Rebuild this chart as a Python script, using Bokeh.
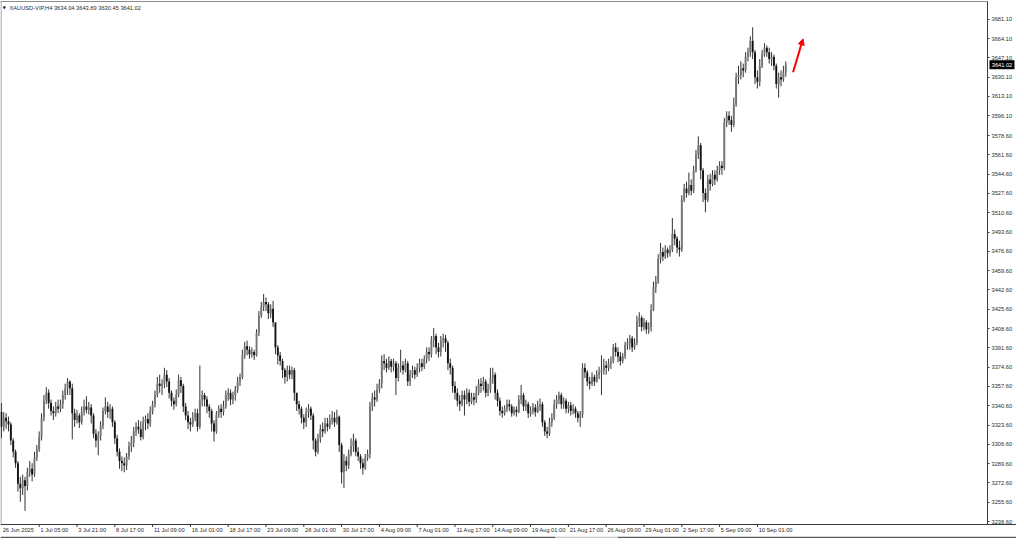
import numpy as np
from bokeh.plotting import figure
from bokeh.models import (Range1d, FixedTicker, Label, Arrow, NormalHead, ColumnDataSource,
                          PrintfTickFormatter, CustomJSTickFormatter)
from bokeh.core.properties import value
from bokeh.embed import file_html
from bokeh.resources import INLINE

# ---------------- data (XAUUSD H4 candles) ----------------
first_open = 3335.0
close = [
    3322, 3330, 3327, 3324, 3310, 3300, 3290, 3272, 3268, 3275,   # 0
    3270, 3282, 3285, 3280, 3295, 3302, 3313, 3330, 3345, 3352,   # 10
    3343, 3336, 3334, 3340, 3338, 3342, 3350, 3356, 3362, 3356,   # 20
    3334, 3328, 3332, 3326, 3335, 3340, 3337, 3339, 3332, 3316,   # 30
    3310, 3314, 3323, 3336, 3340, 3335, 3338, 3326, 3312, 3300,   # 40
    3292, 3290, 3288, 3296, 3305, 3308, 3318, 3322, 3320, 3313,   # 50
    3326, 3329, 3325, 3336, 3342, 3350, 3360, 3358, 3360, 3368,   # 60
    3362, 3352, 3345, 3342, 3350, 3363, 3358, 3340, 3332, 3326,   # 70
    3324, 3330, 3334, 3322, 3345, 3350, 3346, 3340, 3336, 3325,   # 80
    3318, 3333, 3338, 3335, 3340, 3350, 3352, 3346, 3350, 3355,   # 90
    3362, 3366, 3385, 3393, 3390, 3386, 3388, 3385, 3405, 3420,   # 100
    3428, 3432, 3430, 3422, 3426, 3414, 3392, 3385, 3380, 3372,   # 110
    3366, 3372, 3368, 3372, 3352, 3342, 3338, 3330, 3326, 3335,   # 120
    3338, 3332, 3310, 3300, 3312, 3320, 3318, 3325, 3322, 3328,   # 130
    3330, 3326, 3331, 3306, 3282, 3292, 3288, 3298, 3305, 3310,   # 140
    3300, 3296, 3290, 3286, 3295, 3298, 3340, 3348, 3346, 3355,   # 150
    3360, 3380, 3378, 3374, 3380, 3375, 3378, 3365, 3374, 3376,   # 160
    3372, 3378, 3362, 3368, 3372, 3368, 3374, 3378, 3375, 3382,   # 170
    3388, 3386, 3398, 3402, 3392, 3388, 3398, 3400, 3396, 3378,   # 180
    3374, 3358, 3352, 3345, 3342, 3350, 3346, 3352, 3344, 3348,   # 190
    3346, 3352, 3360, 3358, 3362, 3352, 3355, 3365, 3368, 3352,   # 200
    3345, 3336, 3334, 3338, 3342, 3340, 3334, 3337, 3335, 3346,   # 210
    3350, 3340, 3342, 3334, 3336, 3339, 3335, 3340, 3342, 3326,   # 220
    3318, 3316, 3326, 3330, 3342, 3346, 3350, 3342, 3345, 3338,   # 230
    3341, 3336, 3338, 3334, 3330, 3333, 3374, 3370, 3362, 3360,   # 240
    3366, 3362, 3368, 3370, 3372, 3376, 3374, 3378, 3380, 3392,   # 250
    3388, 3384, 3380, 3384, 3394, 3396, 3400, 3392, 3396, 3415,   # 260
    3418, 3410, 3414, 3408, 3410, 3425, 3445, 3450, 3470, 3476,   # 270
    3472, 3478, 3475, 3478, 3492, 3488, 3480, 3478, 3522, 3532,   # 280
    3528, 3535, 3530, 3548, 3562, 3570, 3548, 3528, 3522, 3540,   # 290
    3536, 3544, 3540, 3548, 3552, 3550, 3590, 3596, 3592, 3588,   # 300
    3606, 3630, 3632, 3638, 3636, 3648, 3652, 3662, 3652, 3630,   # 310
    3626, 3640, 3650, 3656, 3652, 3646, 3648, 3640, 3624, 3630,   # 320
    3628, 3634.04, 3641.02,                                       # 330
]
high = [
    3343, 3335, 3334, 3331, 3326, 3312, 3302, 3292, 3278, 3280,
    3278, 3286, 3292, 3290, 3300, 3306, 3318, 3334, 3350, 3357,
    3355, 3346, 3340, 3344, 3346, 3346, 3354, 3360, 3365, 3363,
    3360, 3338, 3337, 3334, 3340, 3346, 3349, 3344, 3342, 3334,
    3320, 3318, 3327, 3339, 3348, 3344, 3342, 3340, 3328, 3315,
    3303, 3296, 3295, 3299, 3309, 3314, 3322, 3326, 3328, 3327,
    3331, 3332, 3334, 3340, 3345, 3354, 3366, 3368, 3364, 3374,
    3372, 3365, 3354, 3348, 3355, 3368, 3366, 3360, 3343, 3336,
    3330, 3335, 3338, 3338, 3376, 3354, 3352, 3349, 3342, 3338,
    3328, 3336, 3341, 3342, 3345, 3354, 3356, 3355, 3353, 3358,
    3366, 3369, 3390, 3397, 3398, 3393, 3392, 3390, 3408, 3424,
    3432, 3439, 3436, 3432, 3430, 3433, 3414, 3394, 3388, 3382,
    3374, 3376, 3376, 3375, 3374, 3352, 3345, 3340, 3333, 3339,
    3342, 3340, 3334, 3312, 3316, 3324, 3326, 3330, 3330, 3333,
    3336, 3335, 3337, 3332, 3308, 3298, 3296, 3302, 3312, 3316,
    3312, 3304, 3298, 3294, 3298, 3302, 3344, 3352, 3354, 3360,
    3364, 3385, 3386, 3382, 3384, 3382, 3382, 3380, 3378, 3390,
    3380, 3382, 3380, 3372, 3376, 3375, 3378, 3382, 3382, 3385,
    3392, 3392, 3402, 3409, 3404, 3396, 3402, 3404, 3403, 3398,
    3382, 3376, 3362, 3356, 3350, 3354, 3354, 3356, 3355, 3352,
    3352, 3358, 3364, 3365, 3366, 3364, 3360, 3374, 3374, 3370,
    3355, 3348, 3340, 3341, 3346, 3346, 3342, 3340, 3340, 3350,
    3359, 3352, 3346, 3344, 3340, 3343, 3342, 3345, 3347, 3344,
    3328, 3322, 3330, 3334, 3346, 3350, 3353, 3352, 3348, 3347,
    3344, 3344, 3342, 3340, 3336, 3336, 3378, 3378, 3372, 3366,
    3370, 3368, 3372, 3375, 3385, 3382, 3380, 3382, 3384, 3395,
    3396, 3392, 3388, 3387, 3397, 3400, 3403, 3402, 3400, 3420,
    3423, 3420, 3418, 3416, 3414, 3430, 3450, 3455, 3474, 3484,
    3480, 3482, 3480, 3482, 3506, 3496, 3490, 3486, 3526, 3536,
    3538, 3546, 3540, 3552, 3566, 3578, 3572, 3550, 3532, 3544,
    3545, 3548, 3548, 3552, 3556, 3556, 3594, 3600, 3600, 3596,
    3612, 3634, 3640, 3644, 3642, 3652, 3656, 3666, 3674, 3654,
    3636, 3646, 3654, 3660, 3658, 3656, 3652, 3650, 3642, 3634,
    3636, 3640, 3643.89,
]
low = [
    3312, 3318, 3320, 3318, 3306, 3295, 3286, 3265, 3256, 3262,
    3248, 3266, 3278, 3274, 3278, 3292, 3300, 3310, 3327, 3342,
    3338, 3332, 3328, 3331, 3334, 3335, 3338, 3346, 3350, 3350,
    3311, 3322, 3325, 3321, 3324, 3332, 3334, 3333, 3325, 3312,
    3304, 3297, 3310, 3320, 3333, 3330, 3329, 3322, 3307, 3296,
    3285, 3283, 3282, 3284, 3293, 3300, 3304, 3314, 3316, 3310,
    3311, 3319, 3320, 3322, 3333, 3339, 3348, 3352, 3350, 3356,
    3357, 3347, 3340, 3337, 3340, 3348, 3352, 3335, 3328, 3320,
    3318, 3322, 3327, 3318, 3320, 3340, 3340, 3334, 3330, 3318,
    3309, 3316, 3330, 3330, 3332, 3338, 3345, 3341, 3342, 3345,
    3352, 3358, 3364, 3382, 3385, 3382, 3383, 3381, 3384, 3402,
    3418, 3424, 3424, 3417, 3418, 3410, 3386, 3377, 3376, 3365,
    3360, 3362, 3364, 3364, 3345, 3336, 3333, 3325, 3320, 3322,
    3330, 3328, 3302, 3296, 3298, 3308, 3313, 3316, 3318, 3320,
    3324, 3322, 3324, 3300, 3272, 3268, 3283, 3285, 3296, 3300,
    3296, 3292, 3285, 3280, 3284, 3292, 3294, 3336, 3340, 3344,
    3352, 3356, 3372, 3370, 3372, 3370, 3371, 3350, 3362, 3370,
    3368, 3370, 3358, 3358, 3365, 3364, 3366, 3370, 3371, 3373,
    3378, 3380, 3383, 3392, 3386, 3383, 3384, 3392, 3388, 3372,
    3368, 3352, 3346, 3340, 3336, 3340, 3332, 3342, 3340, 3342,
    3341, 3343, 3350, 3352, 3354, 3348, 3349, 3352, 3360, 3346,
    3340, 3332, 3330, 3332, 3335, 3336, 3331, 3332, 3331, 3334,
    3342, 3336, 3336, 3330, 3331, 3333, 3331, 3334, 3336, 3322,
    3314, 3312, 3314, 3322, 3328, 3338, 3342, 3338, 3338, 3334,
    3334, 3332, 3333, 3330, 3326, 3322, 3330, 3365, 3358, 3355,
    3358, 3358, 3361, 3364, 3350, 3368, 3368, 3371, 3373, 3378,
    3384, 3379, 3376, 3378, 3382, 3390, 3390, 3388, 3390, 3394,
    3410, 3406, 3407, 3404, 3404, 3406, 3424, 3440, 3448, 3466,
    3468, 3470, 3471, 3472, 3476, 3482, 3475, 3472, 3476, 3520,
    3524, 3526, 3526, 3528, 3546, 3558, 3540, 3520, 3511, 3520,
    3530, 3534, 3535, 3538, 3544, 3544, 3548, 3586, 3588, 3582,
    3586, 3604, 3624, 3628, 3630, 3634, 3644, 3648, 3646, 3624,
    3620, 3622, 3638, 3648, 3648, 3642, 3640, 3636, 3620, 3612,
    3622, 3626, 3630.45,
]

price_ticks = [3681.10, 3664.10, 3647.10, 3630.10, 3613.10, 3596.10, 3578.60,
               3561.60, 3544.60, 3527.60, 3510.60, 3493.60, 3476.60, 3459.60,
               3442.60, 3425.60, 3408.60, 3391.60, 3374.60, 3357.60, 3340.60,
               3323.60, 3306.60, 3289.60, 3272.60, 3255.60, 3238.60]

time_tick_bars = [0, 16, 32, 48, 64, 80, 96, 112, 128, 144, 160, 176, 192,
                  208, 224, 240, 256, 272, 288, 304, 320]
time_tick_labels = ["26 Jun 2025", "1 Jul 05:00", "3 Jul 21:00", "8 Jul 17:00",
                    "11 Jul 09:00", "16 Jul 01:00", "18 Jul 17:00", "23 Jul 09:00",
                    "28 Jul 01:00", "30 Jul 17:00", "4 Aug 09:00", "7 Aug 01:00",
                    "11 Aug 17:00", "14 Aug 09:00", "19 Aug 01:00", "21 Aug 17:00",
                    "26 Aug 09:00", "29 Aug 01:00", "2 Sep 17:00", "5 Sep 09:00",
                    "10 Sep 01:00"]

title_text = "XAUUSD-VIP,H4  3634.04 3643.89 3630.45 3641.02"
last_price = 3641.02
arrow_start = (335.1, 3634.3)
arrow_end = (339.3, 3663.8)

# ---------------- layout ----------------
W, H = 1016, 538
AXIS_PX = 987          # pixel column of the price-axis line
LINE_PX = 524          # pixel row of the time-axis line
TOP_PX = 1             # pixel row of the top border
TAB_PX = 537           # pixel row of the tab-bar line at the bottom
XA, XB = -0.38, 417.4  # bar positions at pixel 0 and at the price-axis line
YA, YB = 3236.0, 3696.7  # prices at the time-axis line and at the top border
PX_X = (XB - XA) / AXIS_PX
PX_Y = (YB - YA) / (LINE_PX - TOP_PX)
FONT = "Liberation Sans"
FS = "5.7px"
FS_PX = 5.7
INK = "#2a2a2a"


def dx(px):
    return px * PX_X


def dy(px):
    return px * PX_Y


# Arial/Liberation advance widths (1/1000 em) for centring left-aligned time labels
ADV = {" ": 278, ":": 278, "J": 500, "u": 556, "n": 556, "l": 222, "A": 667,
       "g": 556, "S": 667, "e": 556, "p": 556}


def text_px(s):
    return sum(ADV.get(ch, 556) for ch in s) / 1000.0 * FS_PX


p = figure(width=W, height=H, output_backend="svg", toolbar_location=None,
           x_range=Range1d(XA, XA + W * PX_X),
           y_range=Range1d(YA - (H - LINE_PX) * PX_Y, YB + TOP_PX * PX_Y),
           y_axis_location="right", x_axis_location="below",
           min_border_left=0, min_border_top=0, min_border_right=0, min_border_bottom=0)
p.background_fill_color = "white"
p.border_fill_color = "white"
p.outline_line_color = None
p.xgrid.visible = False
p.ygrid.visible = False

# right price axis, fixed at the chart edge
ya = p.yaxis[0]
ya.fixed_location = XB
ya.bounds = (YA, YB)
ya.ticker = FixedTicker(ticks=price_ticks, minor_ticks=[])
ya.formatter = PrintfTickFormatter(format="%.2f")
ya.axis_line_color = "#3a3a3a"
ya.major_tick_line_color = "#3a3a3a"
ya.major_tick_out = 2
ya.major_tick_in = 0
ya.minor_tick_line_color = None
ya.major_label_standoff = 2
ya.major_label_text_font = FONT
ya.major_label_text_font_size = FS
ya.major_label_text_color = INK

# bottom time axis: labels start at their tick (MT4 style)
label_pos = [b + dx(1.2) + dx(text_px(t) / 2) for b, t in zip(time_tick_bars, time_tick_labels)]
xa = p.xaxis[0]
xa.fixed_location = YA
xa.ticker = FixedTicker(ticks=label_pos, minor_ticks=[])
xa.formatter = CustomJSTickFormatter(args=dict(labels=time_tick_labels),
                                     code="return labels[index];")
xa.axis_line_color = "#3a3a3a"
xa.major_tick_line_color = None
xa.major_tick_out = 0
xa.major_tick_in = 0
xa.minor_tick_line_color = None
xa.major_label_standoff = 2
xa.major_label_text_font = FONT
xa.major_label_text_font_size = FS
xa.major_label_text_color = INK

# time tick marks below the axis line
p.segment(x0=time_tick_bars[1:], y0=[YA] * (len(time_tick_bars) - 1),
          x1=time_tick_bars[1:], y1=[YA - dy(2.5)] * (len(time_tick_bars) - 1),
          line_color="#3a3a3a", line_width=1)

# top and left border of the chart window
p.segment(x0=[XA, XA + dx(0.5)], y0=[YB, YA], x1=[XB, XA + dx(0.5)], y1=[YB, YB],
          line_color="#8c8c8c", line_width=1)

# tab bar edge at the very bottom of the window
y_tab = YA - (TAB_PX - LINE_PX) * PX_Y
p.segment(x0=[XA, XA + dx(617)], y0=[y_tab, y_tab], x1=[XA + dx(555), XA + W * PX_X],
          y1=[y_tab, y_tab], line_color="#5a5a5a", line_width=1.5)
p.segment(x0=[XA + dx(555)], y0=[y_tab], x1=[XA + dx(617)], y1=[y_tab],
          line_color="#c8c8c8", line_width=1.5)

# candles
n = len(close)
bars = list(range(n))
opens = [first_open] + close[:-1]
hi = np.maximum(np.maximum(high, opens), close)
lo = np.minimum(np.minimum(low, opens), close)
top = np.maximum(opens, close)
bot = np.minimum(opens, close)
colors = ["#757575" if c >= o else "#121212" for o, c in zip(opens, close)]
src = ColumnDataSource(dict(x=bars, high=hi, low=lo, top=top, bottom=bot, color=colors))
p.segment(x0="x", y0="low", x1="x", y1="high", source=src, line_color="#333333", line_width=1)
p.vbar(x="x", width=0.8, top="top", bottom="bottom", fill_color="color",
       line_color=None, source=src)

# title and marker
p.add_layout(Label(x=XA + dx(2.2), y=YB - dy(3.2), text="\u25BC", text_align="left",
                   text_baseline="top", text_font="DejaVu Sans", text_font_size="4px",
                   text_color="#000000"))
p.add_layout(Label(x=XA + dx(9), y=YB - dy(3), text=title_text, text_align="left",
                   text_baseline="top", text_font=FONT, text_font_size=FS,
                   text_color=INK))

# current price box on the price axis
box = p.rect(x=[XB + dx(2 + 12.5)], y=[last_price], width=25, height=9,
             width_units="screen", height_units="screen",
             fill_color="black", line_color=None)
box.level = "overlay"
box_txt = p.text(x=[XB + dx(2 + 12.5)], y=[last_price], text=[f"{last_price:.2f}"],
                 text_align="center", text_baseline="middle", text_font=value(FONT),
                 text_font_size=FS, text_color="white")
box_txt.level = "overlay"

# red arrow
p.add_layout(Arrow(end=NormalHead(size=6, fill_color="#ff0000", line_color="#ff0000"),
                   x_start=arrow_start[0], y_start=arrow_start[1],
                   x_end=arrow_end[0], y_end=arrow_end[1],
                   line_color="#ff0000", line_width=2))

open("out.html", "w").write(file_html(p, INLINE))
